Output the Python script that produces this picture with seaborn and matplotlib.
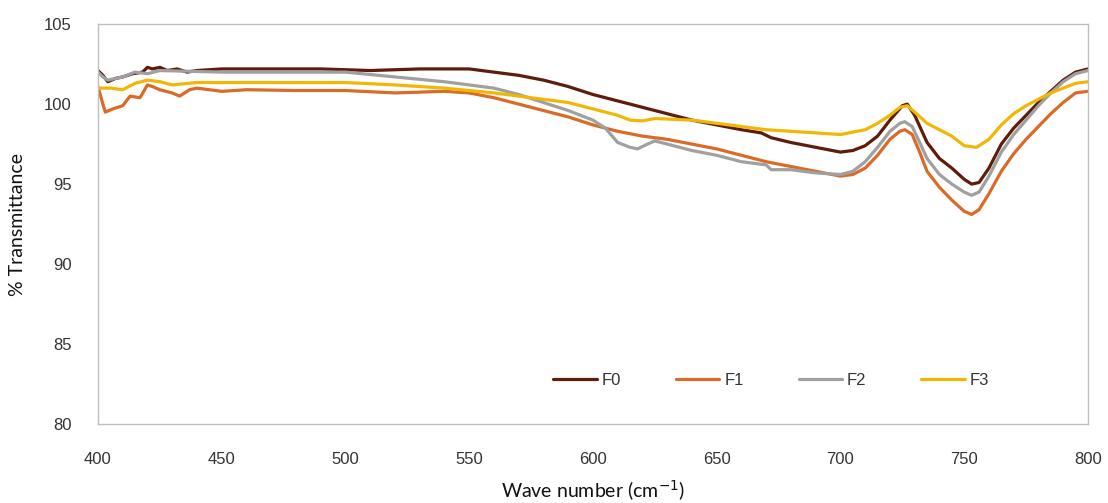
import matplotlib
matplotlib.use("Agg")
import matplotlib.pyplot as plt
import seaborn as sns
import pandas as pd

# FTIR transmittance spectra, four formulations
f0_wave = [400, 402, 404, 407, 410, 414, 418, 420, 422, 425, 428, 432, 436, 440, 450, 470, 490, 510, 530, 550,
           560, 570, 580, 590, 600, 610, 620, 630, 640, 650, 660, 668, 672, 680, 690, 700, 705, 710, 715, 720,
           725, 727, 730, 735, 740, 745, 750, 753, 756, 760, 765, 770, 775, 780, 785, 790, 795, 800]
f0_val = [102.1, 101.8, 101.4, 101.6, 101.7, 101.9, 102.0, 102.3, 102.2, 102.3, 102.1, 102.2, 102.0, 102.1, 102.2, 102.2, 102.2, 102.1, 102.2, 102.2,
          102.0, 101.8, 101.5, 101.1, 100.6, 100.2, 99.8, 99.4, 99.0, 98.7, 98.4, 98.2, 97.9, 97.6, 97.3, 97.0, 97.1, 97.4, 98.0, 99.0,
          99.9, 100.0, 99.3, 97.6, 96.6, 96.0, 95.3, 95.0, 95.1, 96.0, 97.5, 98.5, 99.3, 100.1, 100.8, 101.5, 102.0, 102.2]

f1_wave = [400, 402, 403, 406, 410, 413, 417, 420, 422, 425, 430, 433, 437, 440, 450, 460, 480, 500, 520, 540, 550,
           560, 570, 580, 590, 600, 610, 620, 630, 640, 650, 660, 670, 680, 690, 700, 705, 710, 715, 720,
           724, 726, 729, 732, 735, 740, 745, 750, 753, 756, 760, 765, 770, 775, 780, 785, 790, 795, 800]
f1_val = [101.1, 100.0, 99.5, 99.7, 99.9, 100.5, 100.4, 101.2, 101.1, 100.9, 100.7, 100.5, 100.9, 101.0, 100.8, 100.9, 100.85, 100.85, 100.7, 100.8, 100.7,
          100.4, 100.0, 99.6, 99.2, 98.7, 98.3, 98.0, 97.8, 97.5, 97.2, 96.8, 96.4, 96.1, 95.8, 95.5, 95.6, 96.0, 96.8, 97.8,
          98.3, 98.4, 98.1, 97.0, 95.8, 94.8, 94.0, 93.3, 93.1, 93.4, 94.4, 95.8, 96.9, 97.8, 98.6, 99.4, 100.1, 100.7, 100.8]

f2_wave = [400, 402, 404, 410, 415, 420, 425, 450, 480, 500, 520, 540, 560, 570, 580, 590, 600, 605, 610, 615,
           618, 622, 625, 630, 640, 650, 660, 670, 672, 680, 690, 700, 705, 710, 715, 720, 724, 726, 729,
           732, 735, 740, 745, 750, 753, 756, 760, 765, 770, 775, 780, 785, 790, 795, 800]
f2_val = [102.0, 101.7, 101.5, 101.7, 102.0, 101.9, 102.1, 102.0, 102.0, 102.0, 101.7, 101.4, 101.0, 100.6, 100.1, 99.6, 99.0, 98.5, 97.6, 97.3,
          97.2, 97.5, 97.7, 97.5, 97.1, 96.8, 96.4, 96.2, 95.9, 95.9, 95.7, 95.6, 95.8, 96.4, 97.3, 98.3, 98.8, 98.9, 98.6,
          97.6, 96.6, 95.6, 95.0, 94.5, 94.3, 94.5, 95.5, 97.0, 98.1, 99.0, 99.9, 100.7, 101.4, 101.9, 102.1]

f3_wave = [400, 405, 410, 415, 420, 425, 430, 440, 450, 480, 500, 520, 540, 560, 580, 590, 600, 610, 615, 620,
           625, 640, 650, 660, 670, 680, 690, 700, 710, 715, 720, 724, 727, 730, 735, 740, 745, 750, 755,
           760, 765, 770, 775, 780, 785, 790, 795, 800]
f3_val = [101.0, 101.0, 100.9, 101.3, 101.5, 101.4, 101.2, 101.35, 101.35, 101.35, 101.35, 101.2, 101.0, 100.7, 100.3, 100.1, 99.7, 99.3, 99.0, 98.95,
          99.1, 99.0, 98.8, 98.6, 98.4, 98.3, 98.2, 98.1, 98.4, 98.8, 99.3, 99.8, 99.9, 99.5, 98.8, 98.4, 98.0, 97.4, 97.3,
          97.8, 98.7, 99.4, 99.9, 100.3, 100.7, 101.0, 101.3, 101.4]

series_names = ["F0", "F1", "F2", "F3"]
series_colors = ["#5E1C0A", "#D96B27", "#A0A0A0", "#F2B705"]
x_ticks = [400, 450, 500, 550, 600, 650, 700, 750, 800]
y_ticks = [80, 85, 90, 95, 100, 105]

frames = []
for name, w, v in zip(series_names, [f0_wave, f1_wave, f2_wave, f3_wave], [f0_val, f1_val, f2_val, f3_val]):
    frames.append(pd.DataFrame({"wave": w, "trans": v, "sample": name}))
df = pd.concat(frames, ignore_index=True)

sns.set_style("white")
plt.rcParams["font.family"] = ["Lato", "DejaVu Sans"]

fig = plt.figure(figsize=(11.08, 5.03), dpi=100)
ax = fig.add_axes([0.0884, 0.157, 0.8935, 0.795])

sns.lineplot(data=df, x="wave", y="trans", hue="sample", hue_order=series_names,
             palette=dict(zip(series_names, series_colors)), linewidth=2.3,
             estimator=None, sort=True, ax=ax)

ax.set_xlim(400, 800)
ax.set_ylim(80, 105)
ax.set_xticks(x_ticks)
ax.set_yticks(y_ticks)
ax.tick_params(axis="both", length=0, labelsize=12, colors="#333333")
ax.tick_params(axis="x", pad=20)
ax.tick_params(axis="y", pad=19)
for lab in ax.get_xticklabels() + ax.get_yticklabels():
    lab.set_family(["Liberation Sans", "DejaVu Sans"])

ax.set_xlabel("Wave number (cm$^{-1}$)", fontsize=14, color="#111111", labelpad=8)
ax.set_ylabel("% Transmittance", fontsize=14, color="#111111", labelpad=13)

for side in ["left", "right", "top", "bottom"]:
    ax.spines[side].set_visible(True)
    ax.spines[side].set_color("#BFBFBF")
    ax.spines[side].set_linewidth(1.0)

leg = ax.legend(loc="center", bbox_to_anchor=(0.68, 0.11), ncol=4, frameon=False,
                handlelength=2.6, handletextpad=0.3, columnspacing=3.3,
                prop={"family": ["Liberation Sans", "DejaVu Sans"], "size": 12})
for t in leg.get_texts():
    t.set_color("#333333")

fig.savefig("out.png", dpi=100)
